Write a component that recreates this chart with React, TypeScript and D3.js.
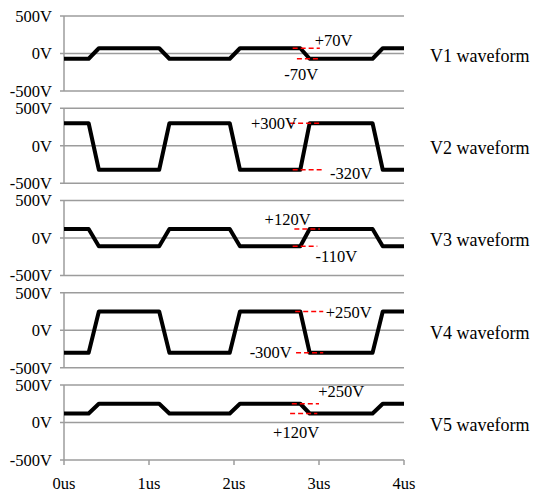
import React from "react";
import * as d3 from "d3";

const W = 534;
const H = 496;

const timeUs = [0, 0.29, 0.41, 1.12, 1.24, 1.95, 2.07, 2.78, 2.89, 3.63, 3.75, 4.0];
const v1 = [-70, -70, 70, 70, -70, -70, 70, 70, -70, -70, 70, 70];
const v2 = [300, 300, -320, -320, 300, 300, -320, -320, 300, 300, -320, -320];
const v3 = [120, 120, -110, -110, 120, 120, -110, -110, 120, 120, -110, -110];
const v4 = [-300, -300, 250, 250, -300, -300, 250, 250, -300, -300, 250, 250];
const v5 = [120, 120, 250, 250, 120, 120, 250, 250, 120, 120, 250, 250];

const seriesNames = ["V1 waveform", "V2 waveform", "V3 waveform", "V4 waveform", "V5 waveform"];
const seriesValues = [v1, v2, v3, v4, v5];

const yTicks = [500, 0, -500];
const yTickLabels = ["500V", "0V", "-500V"];
const xTicks = [0, 1, 2, 3, 4];
const xTickLabels = ["0us", "1us", "2us", "3us", "4us"];

// reference dashes: [level V, start us, end us]
const dashes1 = [[70, 2.69, 3.01], [-70, 2.74, 3.01]];
const dashes2 = [[300, 2.66, 3.01], [-320, 2.69, 3.05]];
const dashes3 = [[120, 2.71, 3.01], [-110, 2.69, 2.98]];
const dashes4 = [[250, 2.72, 3.05], [-300, 2.73, 3.05]];
const dashes5 = [[250, 2.68, 3.0], [120, 2.66, 2.98]];
const allDashes = [dashes1, dashes2, dashes3, dashes4, dashes5];

// annotation labels: text, at time (us), at voltage, anchor
const notes1 = [["+70V", 2.95, 176, "start"], ["-70V", 2.59, -270, "start"]];
const notes2 = [["+300V", 2.74, 300, "end"], ["-320V", 3.13, -361, "start"]];
const notes3 = [["+120V", 2.36, 257, "start"], ["-110V", 2.96, -243, "start"]];
const notes4 = [["+250V", 3.08, 243, "start"], ["-300V", 2.68, -297, "end"]];
const notes5 = [["+250V", 2.99, 419, "start"], ["+120V", 2.46, -135, "start"]];
const allNotes = [notes1, notes2, notes3, notes4, notes5];

const FONT = "'Liberation Serif', 'DejaVu Serif', 'Times New Roman', Times, serif";

export default function App() {
  const x = d3.scaleLinear().domain([0, 4]).range([64, 404]);
  const panelTop = d3.scaleLinear().domain([0, 4]).range([16, 385]);
  const panelH = 75;
  const grid = "#9c9c9c";
  const txt = (size: number) => ({ fontFamily: FONT, fontSize: size + "px" });

  return (
    <svg width={W} height={H} style={{ position: "absolute", left: 0, top: 0, background: "#fff" }}>
      {seriesValues.map((vals, i) => {
        const top = panelTop(i);
        const y = d3.scaleLinear().domain([500, -500]).range([top, top + panelH]);
        const line = d3
          .line<number>()
          .x((_, k) => x(timeUs[k]))
          .y((d) => y(d));
        const isLast = i === seriesValues.length - 1;
        return (
          <g key={i}>
            {yTicks.map((t, k) => (
              <g key={k}>
                <line x1={60} x2={404} y1={y(t)} y2={y(t)} stroke={grid} strokeWidth={1.5} />
                <text x={52} y={y(t)} dy="0.35em" textAnchor="end" style={txt(16.5)} fill="#000">
                  {yTickLabels[k]}
                </text>
              </g>
            ))}
            <line x1={x(0)} x2={x(0)} y1={top} y2={top + panelH} stroke={grid} strokeWidth={1.5} />
            <path d={line(vals) || ""} fill="none" stroke="#000" strokeWidth={4} strokeLinejoin="round" />
            {allDashes[i].map((d, k) => (
              <line
                key={k}
                x1={x(d[1])}
                x2={x(d[2])}
                y1={y(d[0])}
                y2={y(d[0])}
                stroke="#ff0000"
                strokeWidth={1.4}
                strokeDasharray="5,3"
              />
            ))}
            {allNotes[i].map((n, k) => (
              <text
                key={k}
                x={x(n[1] as number)}
                y={y(n[2] as number)}
                dy="0.35em"
                textAnchor={n[3] as string}
                style={txt(16.5)}
                fill="#000"
              >
                {n[0]}
              </text>
            ))}
            <text x={430} y={y(0) + 2} dy="0.35em" style={txt(18)} fill="#000">
              {seriesNames[i]}
            </text>
            {isLast &&
              xTicks.map((t, k) => (
                <g key={k}>
                  <line x1={x(t)} x2={x(t)} y1={top + panelH} y2={top + panelH + 5} stroke={grid} strokeWidth={1.5} />
                  <text x={x(t)} y={top + panelH + 23} dy="0.35em" textAnchor="middle" style={txt(16.5)} fill="#000">
                    {xTickLabels[k]}
                  </text>
                </g>
              ))}
          </g>
        );
      })}
    </svg>
  );
}
